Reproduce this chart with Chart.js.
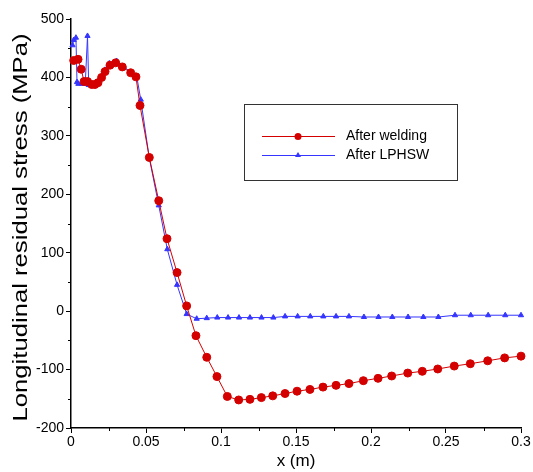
<!DOCTYPE html>
<html>
<head>
<meta charset="utf-8">
<script src="https://cdn.jsdelivr.net/npm/chart.js@4/dist/chart.umd.min.js"></script>
<style>
html,body{margin:0;padding:0;background:#fff;}
#wrap{width:533px;height:472px;position:relative;}
</style>
</head>
<body>
<div id="wrap"><canvas id="c" width="533" height="472"></canvas></div>
<script>
// Data
const weldX = [0.0018, 0.0047, 0.0068, 0.0087, 0.011, 0.0138, 0.016, 0.018, 0.0204, 0.0227, 0.026, 0.0298, 0.0342, 0.0398, 0.0433, 0.046, 0.0522, 0.0585, 0.064, 0.0707, 0.0771, 0.0833, 0.0905, 0.0973, 0.1042, 0.1118, 0.1193, 0.1269, 0.1345, 0.1427, 0.1507, 0.1593, 0.168, 0.1767, 0.1853, 0.1949, 0.2047, 0.2138, 0.2245, 0.2342, 0.2445, 0.2555, 0.2662, 0.2778, 0.2891, 0.3];
const weldY = [429, 431, 414, 393, 393, 388, 388, 391, 400, 410, 421, 425, 418, 408, 401, 352, 263, 189, 124, 66, 9, -42, -79, -112, -146, -152, -151, -148, -145, -141, -137, -134, -130, -127, -124, -119, -115, -111, -106, -103, -99, -94, -90, -85, -80, -77];

const lphswX = [0.001, 0.0018, 0.0033, 0.004, 0.0049, 0.0075, 0.0095, 0.011, 0.0118, 0.0149, 0.018, 0.0204, 0.0227, 0.0255, 0.0305, 0.0349, 0.0404, 0.0438, 0.0465, 0.0522, 0.0585, 0.0642, 0.0707, 0.0771, 0.0838, 0.0905, 0.0975, 0.1047, 0.112, 0.1193, 0.127, 0.1349, 0.1427, 0.1511, 0.1595, 0.1682, 0.1767, 0.1853, 0.1953, 0.205, 0.2142, 0.2247, 0.2349, 0.2449, 0.256, 0.2665, 0.2781, 0.2895, 0.3];
const lphswY = [455, 464, 468, 392, 389, 389, 389, 471, 387, 385, 393, 402, 413, 424, 428, 419, 408, 402, 362, 262, 181, 106, 45, -5, -13, -12, -11, -11, -11, -11, -11, -11, -9, -9, -9, -9, -9, -9, -10, -10, -10, -10, -10, -10, -7, -7, -7, -7, -7];

const seriesNames = ['After welding', 'After LPHSW'];
const xTickLabels = ['0', '0.05', '0.1', '0.15', '0.2', '0.25', '0.3'];
const yTickLabels = ['-200', '-100', '0', '100', '200', '300', '400', '500'];
const xTitle = 'x (m)';
const yTitle = 'Longitudinal residual stress (MPa)';

const RED = '#d40000';
const BLUE = '#3535ff';
const FONT = '"Liberation Sans", Arial, sans-serif';

function pts(xs, ys){ return xs.map((x,i)=>({x:x, y:ys[i]})); }
function isMajorX(v){ const k = Math.round(v / 0.05); return Math.abs(k * 0.05 - v) < 1e-9; }
function isMajorY(v){ return v % 100 === 0; }

// Vertical axis title, stretched along its length like the reference
const yTitlePlugin = {
  id: 'yTitlePlugin',
  afterDraw(chart){
    const ctx = chart.ctx;
    const ca = chart.chartArea;
    ctx.save();
    ctx.font = '20px ' + FONT;
    const w = ctx.measureText(yTitle).width;
    const target = 388;
    ctx.translate(21, (ca.top + ca.bottom) / 2 + 4);
    ctx.rotate(-Math.PI / 2);
    ctx.scale(target / w, 1);
    ctx.fillStyle = '#000';
    ctx.textAlign = 'center';
    ctx.textBaseline = 'middle';
    ctx.fillText(yTitle, 0, 0);
    ctx.restore();
  }
};

// Short minor tick marks (major ones are drawn by the scales)
const minorTicks = {
  id: 'minorTicks',
  afterDraw(chart){
    const ctx = chart.ctx;
    const ca = chart.chartArea;
    const xs = chart.scales.x, ys = chart.scales.y;
    ctx.save();
    ctx.strokeStyle = '#000';
    ctx.lineWidth = 1;
    ctx.beginPath();
    xs.ticks.forEach(t => {
      if (isMajorX(t.value)) return;
      const px = Math.round(xs.getPixelForValue(t.value)) + 0.5;
      ctx.moveTo(px, ca.bottom);
      ctx.lineTo(px, ca.bottom + 3);
    });
    ys.ticks.forEach(t => {
      if (isMajorY(t.value)) return;
      const py = Math.round(ys.getPixelForValue(t.value)) + 0.5;
      ctx.moveTo(ca.left, py);
      ctx.lineTo(ca.left - 3, py);
    });
    ctx.stroke();
    ctx.restore();
  }
};

const boxLegend = {
  id: 'boxLegend',
  afterDatasetsDraw(chart){
    const ctx = chart.ctx;
    const ca = chart.chartArea;
    const bx = ca.left + 173, by = ca.top + 85, bw = 213, bh = 76;
    ctx.save();
    ctx.fillStyle = '#fff';
    ctx.fillRect(bx, by, bw, bh);
    ctx.strokeStyle = '#333';
    ctx.lineWidth = 1;
    ctx.strokeRect(bx + 0.5, by + 0.5, bw, bh);
    const ds = chart.data.datasets;
    const rows = [by + 32, by + 51];
    ds.forEach((d, i) => {
      const y = rows[i];
      ctx.strokeStyle = d.borderColor;
      ctx.lineWidth = 1;
      ctx.beginPath();
      ctx.moveTo(bx + 18, y + 0.5);
      ctx.lineTo(bx + 91, y + 0.5);
      ctx.stroke();
      ctx.fillStyle = d.pointBackgroundColor;
      ctx.beginPath();
      if (i === 0) {
        ctx.arc(bx + 54, y + 0.5, 3.5, 0, Math.PI * 2);
      } else {
        ctx.moveTo(bx + 54, y - 3);
        ctx.lineTo(bx + 57, y + 2);
        ctx.lineTo(bx + 51, y + 2);
        ctx.closePath();
      }
      ctx.fill();
      ctx.fillStyle = '#000';
      ctx.font = '14px ' + FONT;
      ctx.textBaseline = 'middle';
      ctx.textAlign = 'left';
      ctx.fillText(d.label, bx + 102, y + 0.5);
    });
    ctx.restore();
  }
};

new Chart(document.getElementById('c'), {
  type: 'line',
  data: {
    datasets: [
      {
        label: seriesNames[0],
        data: pts(weldX, weldY),
        borderColor: RED,
        backgroundColor: RED,
        pointBackgroundColor: RED,
        pointBorderColor: RED,
        pointStyle: 'circle',
        pointRadius: 4,
        borderWidth: 1,
        tension: 0,
        clip: false
      },
      {
        label: seriesNames[1],
        data: pts(lphswX, lphswY),
        borderColor: BLUE,
        backgroundColor: BLUE,
        pointBackgroundColor: BLUE,
        pointBorderColor: BLUE,
        pointStyle: 'triangle',
        pointRadius: 3,
        borderWidth: 1,
        tension: 0,
        clip: false
      }
    ]
  },
  options: {
    responsive: false,
    animation: false,
    layout: { padding: { left: 0, top: 19, right: 12, bottom: 0 } },
    plugins: {
      legend: { display: false },
      tooltip: { enabled: false }
    },
    scales: {
      x: {
        type: 'linear',
        min: 0, max: 0.3,
        ticks: {
          stepSize: 0.025,
          autoSkip: false,
          maxRotation: 0,
          color: '#000',
          font: { family: FONT, size: 14 },
          padding: 1,
          callback: function(v){
            if (!isMajorX(v)) return '';
            return xTickLabels[Math.round(v / 0.05)];
          }
        },
        grid: {
          drawOnChartArea: false, drawTicks: true, tickLength: 5, color: '#000',
          tickColor: c => (c.tick && isMajorX(c.tick.value)) ? '#000' : 'rgba(0,0,0,0)'
        },
        border: { display: true, color: '#000', width: 1.5 },
        title: { display: true, text: xTitle, color: '#000', font: { family: FONT, size: 17 }, padding: { top: 0, bottom: 0 } },
        afterFit: function(s){ s.height = 44; }
      },
      y: {
        type: 'linear',
        min: -200, max: 500,
        ticks: {
          stepSize: 50,
          autoSkip: false,
          color: '#000',
          font: { family: FONT, size: 14 },
          padding: 2,
          callback: function(v){
            if (!isMajorY(v)) return '';
            return yTickLabels[(v + 200) / 100];
          }
        },
        grid: {
          drawOnChartArea: false, drawTicks: true, tickLength: 5, color: '#000',
          tickColor: c => (c.tick && isMajorY(c.tick.value)) ? '#000' : 'rgba(0,0,0,0)'
        },
        border: { display: true, color: '#000', width: 1.5 },
        afterFit: function(s){ s.width = 71; }
      }
    }
  },
  plugins: [boxLegend, yTitlePlugin, minorTicks]
});
</script>
</body>
</html>
